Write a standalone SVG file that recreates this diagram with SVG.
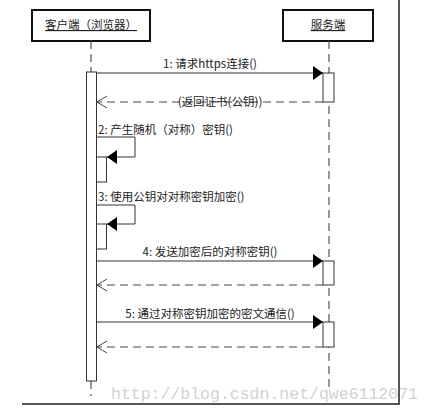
<svg xmlns="http://www.w3.org/2000/svg" width="432" height="413" viewBox="0 0 432 413">
<style>
.box{fill:#fff;stroke:#111;stroke-width:2}
.act{fill:#fff;stroke:#333;stroke-width:1}
.life{stroke:#555;stroke-width:1.2;stroke-dasharray:8 5;fill:none}
.msg{stroke:#333;stroke-width:1;fill:none}
.ret{stroke:#444;stroke-width:1;stroke-dasharray:8 5;fill:none}
.t{font-family:"Noto Sans CJK SC","Noto Sans",sans-serif;font-size:11.5px;fill:#222}
.frame{stroke:#555;stroke-width:2;fill:none}
.wm{font-family:"Liberation Mono",monospace;font-size:16.5px;fill:#d2d2d2}
</style>
<defs>
<marker id="fill" markerWidth="11" markerHeight="14" refX="10" refY="7" orient="auto" markerUnits="userSpaceOnUse">
<path d="M0,0 L10,7 L0,14 Z" fill="#000"/>
</marker>
<marker id="open" markerWidth="12" markerHeight="14" refX="11" refY="7" orient="auto" markerUnits="userSpaceOnUse">
<path d="M1,1 L11,7 L1,13" fill="none" stroke="#444" stroke-width="1"/>
</marker>
</defs>
<rect width="432" height="413" fill="#fff"/>
<text class="wm" x="111" y="399">http://blog.csdn.net/qwe6112071</text>
<path class="frame" d="M399,0 V404 H22"/>
<g id="client">
<rect class="box" x="32" y="10" width="118" height="31"/>
<text class="t" x="91" y="29" text-anchor="middle" text-decoration="underline">客户端（浏览器）</text>
<line class="life" x1="91" y1="41" x2="91" y2="72"/>
<line class="life" x1="91" y1="381" x2="91" y2="396" stroke-dasharray="2 5"/>
<rect class="act" x="86.5" y="72" width="10" height="309"/>
<rect class="act" x="96.5" y="157" width="10" height="25"/>
<rect class="act" x="96.5" y="224" width="10" height="25"/>
</g>
<g id="server">
<rect class="box" x="283" y="10" width="90" height="31"/>
<text class="t" x="328" y="29" text-anchor="middle" text-decoration="underline">服务端</text>
<line class="life" x1="329" y1="41" x2="329" y2="390"/>
<rect class="act" x="323" y="73" width="11" height="29"/>
<rect class="act" x="323" y="261" width="11" height="24"/>
<rect class="act" x="323" y="322" width="11" height="25"/>
</g>
<g id="connectors">
<line class="msg" x1="97" y1="73" x2="323" y2="73" marker-end="url(#fill)"/>
<text class="t" x="210" y="68" text-anchor="middle">1: 请求https连接()</text>
<line class="ret" x1="323" y1="102" x2="97" y2="102" marker-end="url(#open)"/>
<text class="t" x="220" y="106" text-anchor="middle">(返回证书(公钥))</text>
<text class="t" x="98" y="134">2: 产生随机（对称）密钥()</text>
<polyline class="msg" points="97,137 135,137 135,157 107,157" marker-end="url(#fill)"/>
<text class="t" x="98" y="201">3: 使用公钥对对称密钥加密()</text>
<polyline class="msg" points="97,205 135,205 135,224 107,224" marker-end="url(#fill)"/>
<line class="msg" x1="97" y1="261" x2="323" y2="261" marker-end="url(#fill)"/>
<text class="t" x="210" y="256" text-anchor="middle">4: 发送加密后的对称密钥()</text>
<line class="ret" x1="323" y1="285" x2="97" y2="285" marker-end="url(#open)"/>
<line class="msg" x1="97" y1="322" x2="323" y2="322" marker-end="url(#fill)"/>
<text class="t" x="210" y="318" text-anchor="middle">5: 通过对称密钥加密的密文通信()</text>
<line class="ret" x1="323" y1="347" x2="97" y2="347" marker-end="url(#open)"/>
</g>
</svg>
